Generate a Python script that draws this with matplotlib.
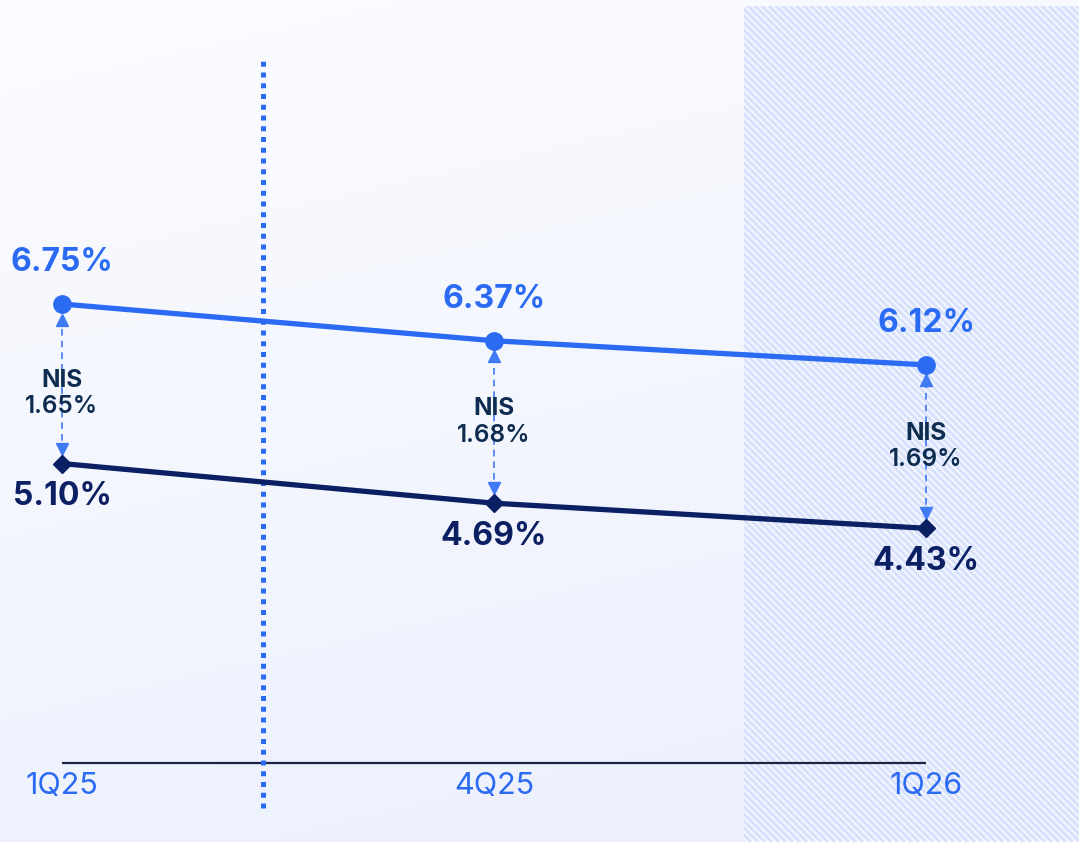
import numpy as np
import matplotlib
matplotlib.use("Agg")
import matplotlib.pyplot as plt
from matplotlib.colors import to_rgb
from matplotlib.collections import LineCollection
from matplotlib.patches import Rectangle
from matplotlib.transforms import offset_copy

# --- data -------------------------------------------------------------
quarters = ["1Q25", "4Q25", "1Q26"]
asset_yield = [6.75, 6.37, 6.12]      # upper series (%)
funding_cost = [5.10, 4.69, 4.43]     # lower series (%)

# --- style ------------------------------------------------------------
BLUE = "#2b6bf3"
NAVY = "#0b1f63"
INK = "#0d2c4f"
ARROW = "#3f7af3"
HATCH = "#d9e2fc"

plt.rcParams["font.family"] = ["Inter", "DejaVu Sans"]

W, H, DPI = 1079, 842, 100
fig = plt.figure(figsize=(W / DPI, H / DPI), dpi=DPI)

# background layer in pixel coordinates (y grows downward)
bg = fig.add_axes([0, 0, 1, 1], zorder=0)
bg.axis("off")

gy, gx = np.mgrid[0:1:200j, 0:1:200j]
t = np.clip(0.85 * gy + 0.25 * gx, 0, 1)
c0, c1 = np.array(to_rgb("#fbfcff")), np.array(to_rgb("#edf1fd"))
bg.imshow(c0 + (c1 - c0) * t[..., None], extent=(0, W, H, 0),
          aspect="auto", interpolation="bilinear", zorder=0)

# hatched outlook panel
panel = Rectangle((744, 6), W - 744, H - 6, facecolor="#f7f9ff",
                  edgecolor="none", zorder=1)
bg.add_patch(panel)
starts = np.arange(744 - H, W + 10, 7.0)
segs = [[(s, 0), (s + H, H)] for s in starts]
hatch = LineCollection(segs, colors=HATCH, linewidths=2.3, zorder=2)
bg.add_collection(hatch)
hatch.set_clip_path(panel)
bg.set_xlim(0, W)
bg.set_ylim(H, 0)

# --- main chart -------------------------------------------------------
ax = fig.add_axes([0, 0, 1, 1], zorder=1)
ax.patch.set_alpha(0)
ax.axis("off")
x = np.arange(len(quarters))
ax.set_xlim(-0.1435, 2.354)
ax.set_ylim(1.186, 9.894)

# baseline and period divider
ax.plot([x[0], x[-1]], [2.0, 2.0], color="#1b2545", lw=1.6, zorder=2,
        solid_capstyle="butt")
ax.plot([0.465, 0.465], [1.54, 9.29], color=BLUE, lw=3.6,
        linestyle=(0, (1.0, 1.15)), zorder=2)

# spread arrows
ax.vlines(x, funding_cost, asset_yield, colors=ARROW, lw=1.2,
          linestyles=(0, (4, 3)), zorder=3)
ax.plot(x, asset_yield, ls="none", marker="^", ms=9.2, color=ARROW, zorder=3,
        transform=offset_copy(ax.transData, fig=fig, y=-15.5, units="dots"))
ax.plot(x, funding_cost, ls="none", marker="v", ms=9.2, color=ARROW, zorder=3,
        transform=offset_copy(ax.transData, fig=fig, y=15, units="dots"))

# series
ax.plot(x, asset_yield, color=BLUE, lw=3.8, marker="o", ms=12.5, zorder=5)
ax.plot(x, funding_cost, color=NAVY, lw=3.8, marker="D", ms=9, zorder=5)

# value labels
for xi, v in zip(x, asset_yield):
    ax.annotate(f"{v:.2f}%", (xi, v), xytext=(0, 30), textcoords="offset points",
                ha="center", va="center", fontsize=23, fontweight="bold",
                color=BLUE, zorder=6)
for xi, v in zip(x, funding_cost):
    ax.annotate(f"{v:.2f}%", (xi, v), xytext=(0, -24), textcoords="offset points",
                ha="center", va="center", fontsize=23, fontweight="bold",
                color=NAVY, zorder=6)

# spread labels
nudge = [-7, 0, 0]
for xi, u, l, dy in zip(x, asset_yield, funding_cost, nudge):
    mid = (u + l) / 2
    ax.annotate("NIS", (xi, mid), xytext=(0, 9.5 + dy), textcoords="offset points",
                ha="center", va="center", fontsize=17.5, fontweight="bold",
                color=INK, zorder=6)
    ax.annotate(f"{u - l:.2f}%", (xi, mid), xytext=(0, -9.5 + dy),
                textcoords="offset points", ha="center", va="center",
                fontsize=17.5, fontweight="semibold", color=INK, zorder=6)

# category labels
for xi, q in zip(x, quarters):
    ax.annotate(q, (xi, 2.0), xytext=(0, -16.5), textcoords="offset points",
                ha="center", va="center", fontsize=22, color=BLUE, zorder=6)

fig.savefig("out.png", dpi=DPI)
